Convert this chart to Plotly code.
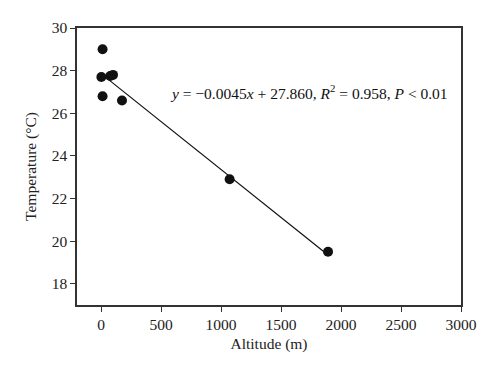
import plotly.graph_objects as go

altitude = [3, 13, 13, 77, 100, 175, 1072, 1892]
temperature = [27.7, 29.0, 26.8, 27.75, 27.8, 26.6, 22.9, 19.5]
slope = -0.0045
intercept = 27.860

x_ticks = [0, 500, 1000, 1500, 2000, 2500, 3000]
y_ticks = [18, 20, 22, 24, 26, 28, 30]

FONT = "Liberation Serif"
fx = [min(altitude), max(altitude)]
fy = [slope * v + intercept for v in fx]

fig = go.Figure()
fig.add_trace(go.Scatter(x=fx, y=fy, mode="lines", line=dict(color="#111", width=1.2), showlegend=False))
fig.add_trace(go.Scatter(x=altitude, y=temperature, mode="markers",
                         marker=dict(color="#111", size=10), showlegend=False))

fig.add_annotation(x=560, y=27.0, xanchor="left", yanchor="middle", showarrow=False,
                   text="<i>y</i> = −0.0045<i>x</i> + 27.860, <i>R</i><sup>2</sup> = 0.958, <i>P</i> < 0.01",
                   font=dict(family=FONT, size=15.5, color="#111"))

axis_common = dict(showgrid=False, zeroline=False, showline=True, linecolor="#333", linewidth=1.5,
                   mirror=True, ticks="outside", ticklen=5, tickcolor="#333", tickwidth=1.2,
                   automargin=False,
                   tickfont=dict(family=FONT, size=15.5, color="#222"))
fig.update_xaxes(range=[-200, 3000], tickvals=x_ticks,
                 title=dict(text="Altitude (m)", font=dict(family=FONT, size=15.5, color="#222"), standoff=6),
                 **axis_common)
fig.update_yaxes(range=[17, 30], tickvals=y_ticks,
                 title=dict(text="Temperature (°C)", font=dict(family=FONT, size=15.5, color="#222"), standoff=11),
                 **axis_common)
fig.update_layout(width=500, height=377, margin=dict(l=69, r=47, t=20, b=80),
                  plot_bgcolor="white", paper_bgcolor="white")
fig.write_html("out.html")
